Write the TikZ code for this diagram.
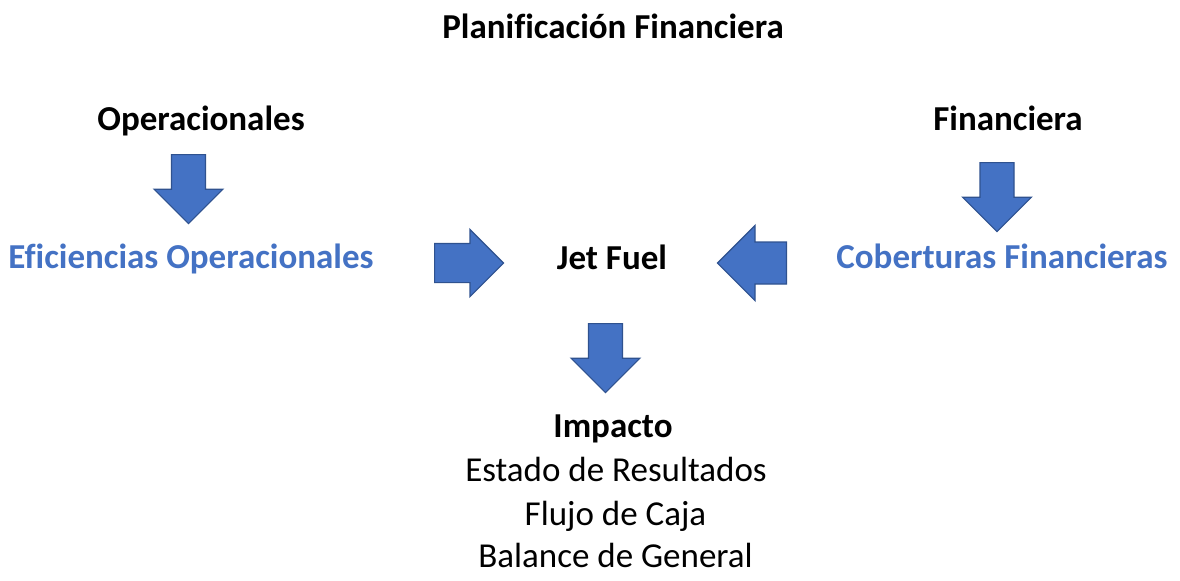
\documentclass[tikz,border=0pt]{standalone}
\usepackage{fontspec}
\setmainfont{Carlito}[Ligatures=NoCommon]
\usetikzlibrary{shapes.arrows}
\definecolor{accentBlue}{HTML}{4472C4}
\definecolor{arrowEdge}{HTML}{2F528F}
\tikzset{
  plaintext/.style={font=\fontsize{17.5}{21}\selectfont, anchor=base, inner sep=0pt},
  boldtext/.style={plaintext, font=\fontsize{17.5}{21}\selectfont\bfseries},
  bluetext/.style={boldtext, text=accentBlue},
  blockarrow/.style={single arrow, draw=arrowEdge, fill=accentBlue, line width=0.6pt,
    minimum width=0pt, minimum height=34.5pt, inner xsep=0pt, inner ysep=8.2pt,
    single arrow head extend=8.7pt, single arrow head indent=0pt, anchor=tail},
  downarrow/.style={blockarrow, shape border rotate=270, inner xsep=8.2pt, inner ysep=0pt},
}
\begin{document}
\begin{tikzpicture}[x=0.5pt,y=-0.5pt]
    \useasboundingbox (0,0) rectangle (1180,580);

    \node[boldtext] (title) at (613,38) {Planificación Financiera};

    \node[boldtext] (operacionales) at (201,130) {Operacionales};
    \node[boldtext] (financiera) at (1008,130) {Financiera};

    \node[downarrow] (operacionalesArrow) at (188.5,154) {};
    \node[downarrow] (financieraArrow) at (997,162) {};

    \node[bluetext] (eficiencias) at (191,268) {Eficiencias Operacionales};
    \node[boldtext] (jetFuel) at (612,269) {Jet Fuel};
    \node[bluetext] (coberturas) at (1002,268) {Coberturas Financieras};

    \node[blockarrow, inner ysep=9.5pt, single arrow head extend=7pt] (eficienciasArrow) at (434,263) {};
    \node[blockarrow, inner ysep=10.2pt, single arrow head extend=8.3pt, shape border rotate=180] (coberturasArrow) at (787,263) {};

    \node[downarrow] (jetFuelArrow) at (605.5,323) {};

    \node[boldtext] (impacto) at (613,437) {Impacto};
    \node[plaintext] (resultados) at (616,481) {Estado de Resultados};
    \node[plaintext] (caja) at (615.5,525) {Flujo de Caja};
    \node[plaintext] (balance) at (615.5,567) {Balance de General};
  \end{tikzpicture}
\end{document}
